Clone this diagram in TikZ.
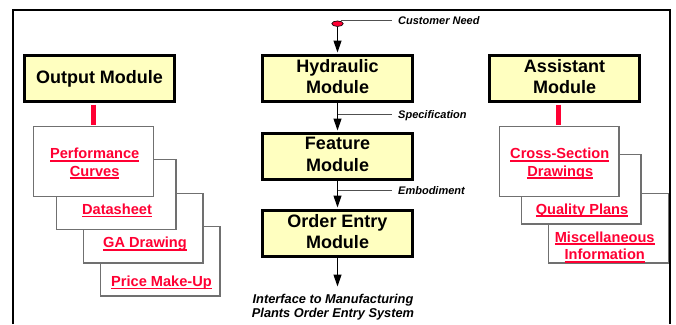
\documentclass[tikz,border=0pt]{standalone}
\usepackage{fontspec}
\setmainfont{Liberation Sans}
\usetikzlibrary{arrows.meta,shapes.geometric}

\definecolor{boxfill}{HTML}{FFFFC0}
\definecolor{linkred}{HTML}{FF0033}
\definecolor{pagegray}{HTML}{707070}
\definecolor{notegray}{HTML}{505050}

% underlined hyperlink-style text
\newcommand\redlink[1]{\sbox0{#1}\rlap{\rule[-3pt]{\wd0}{1.6pt}}\usebox0}

\tikzset{
  module/.style={draw, line width=3pt, fill=boxfill, minimum width=150pt,
    minimum height=46pt, inner sep=0pt, align=center,
    font=\bfseries\fontsize{18}{21.7}\selectfont, text depth=3.8pt},
  page/.style={draw=pagegray, line width=1.3pt, fill=white,
    minimum width=119.7pt, minimum height=69.7pt, inner sep=0pt},
  linktext/.style={text=linkred, font=\bfseries\fontsize{14.6}{18}\selectfont,
    anchor=base, inner sep=0pt},
  note/.style={font=\bfseries\itshape\fontsize{11}{13}\selectfont,
    anchor=base west, inner xsep=6pt, inner ysep=0pt},
  flow/.style={line width=1.2pt, -{Triangle[length=12pt,width=8pt]}, shorten >=1.5pt},
  tie/.style={draw=linkred, line width=5pt, shorten <=1.5pt, shorten >=0.65pt},
  leader/.style={draw=notegray, line width=0.9pt},
}

\begin{document}
\begin{tikzpicture}[x=1pt,y=-1pt]
\useasboundingbox (0,0) rectangle (676,324);

% outer frame
\draw[line width=2.3pt] (12.7,324) -- (12.7,10) -- (670,10) -- (670,324);

% modules
\node[module] (out)   at (99.5,78.5)  {Output Module};
\node[module] (hyd)   at (337.5,78.5) {Hydraulic\\Module};
\node[module] (feat)  at (337.5,156.5) {Feature\\Module};
\node[module] (order) at (337.5,233.5) {Order Entry\\Module};
\node[module] (asst)  at (564.5,78.5) {Assistant\\Module};

% output documents, back to front
\node[page] (price) at (160,261)   {};
\node[page] (ga)    at (143,228)   {};
\node[page] (data)  at (116,194.5) {};
\node[page] (perf)  at (93.5,161.5) {};

\node[linktext] (perfA)  at (94.7,158.5) {\redlink{Performance}};
\node[linktext] (perfB)  at (94.7,176)   {\redlink{Curves}};
\node[linktext] (dataT)  at (117,214.3)  {\redlink{Datasheet}};
\node[linktext] (gaT)    at (145,247.7)  {\redlink{GA Drawing}};
\node[linktext] (priceT) at (161.5,286.3) {\redlink{Price Make-Up}};

% assistant documents, back to front
\node[page] (misc)    at (608.5,228)  {};
\node[page] (quality) at (581,189)    {};
\node[page] (cross)   at (559,161.5)  {};

\node[linktext] (crossA) at (559.7,158.7) {\redlink{Cross-Section}};
\node[linktext] (crossB) at (560.3,176)   {\redlink{Drawings}};
\node[linktext] (qualT)  at (582,214)     {\redlink{Quality Plans}};
\node[linktext] (miscA)  at (604.7,242)   {\redlink{Miscellaneous}};
\node[linktext] (miscB)  at (604.7,259.7) {\redlink{Information}};

% red ties between modules and their documents
\coordinate (tieR) at (558,0);
\draw[tie] (perf.north |- out.south) -- (perf.north);
\draw[tie] (asst.south -| tieR) -- (cross.north -| tieR);

% main flow
\node[ellipse, draw=black, line width=0.6pt, fill=linkred, minimum width=11.5pt,
      minimum height=5.5pt, inner sep=0pt] (need) at (337.5,23.7) {};
\draw[flow] (need.south) -- (hyd.north);
\draw[flow] (hyd.south) -- (feat.north);
\draw[flow] (feat.south) -- (order.north);
\coordinate (exit) at (337.5,286.5);
\draw[flow, shorten >=0pt] (order.south) -- (exit);

% flow annotations
\node[note] (needL) at (392,24)    {Customer Need};
\node[note] (specL) at (392,118)   {Specification};
\node[note] (embL)  at (392,194.7) {Embodiment};
\coordinate (needTap) at (340.5,20.3);
\coordinate (specTap) at (337.5,114);
\coordinate (embTap)  at (337.5,190.7);
\draw[leader] (needTap) -- (needTap -| needL.west);
\draw[leader] (specTap) -- (specTap -| specL.west);
\draw[leader] (embTap)  -- (embTap -| embL.west);

% destination of the flow (base = baseline of the last line)
\node[font=\bfseries\itshape\fontsize{12.8}{14}\selectfont, align=center,
      anchor=base, inner sep=0pt] (iface) at (333,317.3)
      {Interface to Manufacturing\\Plants Order Entry System};
\end{tikzpicture}
\end{document}
